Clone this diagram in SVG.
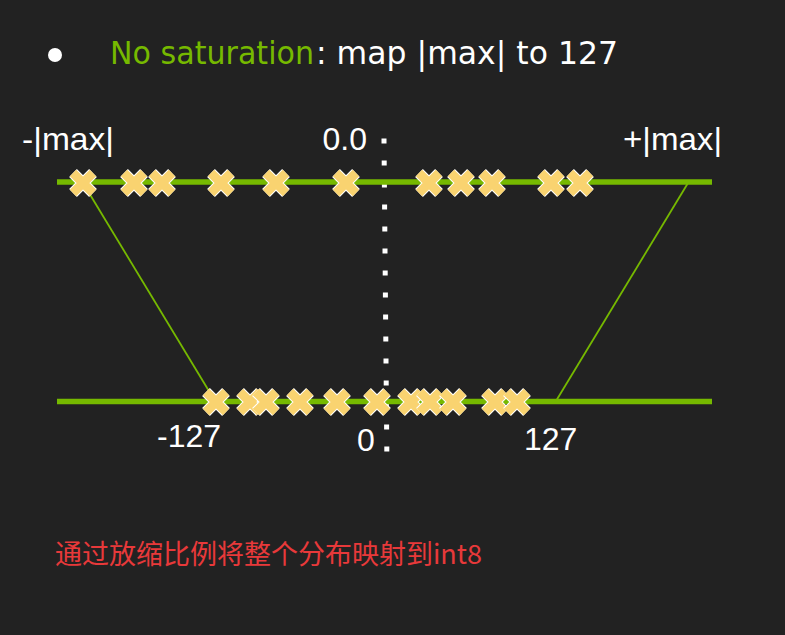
<svg xmlns="http://www.w3.org/2000/svg" width="785" height="635" viewBox="0 0 785 635">
<defs>
<style>
.lbl{font-family:"Liberation Sans",Arial,sans-serif;font-size:32px;fill:#ffffff}
.title{font-family:"DejaVu Sans","Open Sans",sans-serif;font-size:32px}
.axis{stroke:#76b900;stroke-width:5.5;fill:none}
.map{stroke:#76b900;stroke-width:1.8;fill:none}
.dot{fill:#ffffff}
.xo{stroke:#ffffff;stroke-width:11;fill:none}
.xi{stroke:#f9d370;stroke-width:9;fill:none}
</style>
<g id="cross">
<path class="xo" d="M-10,-10L10,10M-10,10L10,-10"/>
<path class="xi" d="M-10,-10L10,10M-10,10L10,-10"/>
</g>
</defs>
<rect width="785" height="635" fill="#222222"/>

<g id="title">
<circle cx="55" cy="55" r="7" fill="#ffffff"/>
<text class="title" x="110" y="64" fill="#76b900" textLength="204" lengthAdjust="spacingAndGlyphs">No saturation</text>
<text class="title" x="316" y="64" fill="#ffffff" textLength="302" lengthAdjust="spacingAndGlyphs">: map |max| to 127</text>
</g>

<g id="connectors">
<line class="map" x1="83" y1="183" x2="215" y2="401"/>
<line class="map" x1="688" y1="183" x2="556" y2="401"/>
</g>

<g id="zero-axis">
<rect class="dot" x="381.5" y="138.5" width="5" height="5"/>
<rect class="dot" x="381.7" y="160.5" width="5" height="5"/>
<rect class="dot" x="381.9" y="182.5" width="5" height="5"/>
<rect class="dot" x="382.1" y="204.5" width="5" height="5"/>
<rect class="dot" x="382.3" y="226.5" width="5" height="5"/>
<rect class="dot" x="382.5" y="248.5" width="5" height="5"/>
<rect class="dot" x="382.7" y="270.5" width="5" height="5"/>
<rect class="dot" x="382.9" y="292.5" width="5" height="5"/>
<rect class="dot" x="383.1" y="314.5" width="5" height="5"/>
<rect class="dot" x="383.3" y="336.5" width="5" height="5"/>
<rect class="dot" x="383.5" y="358.5" width="5" height="5"/>
<rect class="dot" x="383.7" y="380.5" width="5" height="5"/>
<rect class="dot" x="383.9" y="402.5" width="5" height="5"/>
<rect class="dot" x="384.1" y="424.5" width="5" height="5"/>
<rect class="dot" x="384.3" y="446.5" width="5" height="5"/>
</g>

<g id="fp32-axis">
<line class="axis" x1="57" y1="182" x2="712" y2="182"/>
<use href="#cross" x="83" y="183"/>
<use href="#cross" x="134" y="183"/>
<use href="#cross" x="162" y="183"/>
<use href="#cross" x="221" y="183"/>
<use href="#cross" x="276" y="183"/>
<use href="#cross" x="346" y="183"/>
<use href="#cross" x="429" y="183"/>
<use href="#cross" x="461" y="183"/>
<use href="#cross" x="492" y="183"/>
<use href="#cross" x="551" y="183"/>
<use href="#cross" x="580" y="183"/>
</g>

<g id="int8-axis">
<line class="axis" x1="57" y1="401.5" x2="712" y2="401.5"/>
<use href="#cross" x="216" y="402"/>
<use href="#cross" x="250" y="402"/>
<use href="#cross" x="266" y="402"/>
<use href="#cross" x="300" y="402"/>
<use href="#cross" x="337" y="402"/>
<use href="#cross" x="377" y="402"/>
<use href="#cross" x="411" y="402"/>
<use href="#cross" x="430" y="402"/>
<use href="#cross" x="453" y="402"/>
<use href="#cross" x="495" y="402"/>
<use href="#cross" x="517" y="402"/>
</g>

<g id="labels">
<text class="lbl" x="22" y="150" textLength="92" lengthAdjust="spacingAndGlyphs">-|max|</text>
<text class="lbl" x="367" y="150" text-anchor="end">0.0</text>
<text class="lbl" x="623" y="150" textLength="99" lengthAdjust="spacingAndGlyphs">+|max|</text>
<text class="lbl" x="157" y="447">-127</text>
<text class="lbl" x="357" y="451">0</text>
<text class="lbl" x="524" y="450">127</text>
</g>

<g id="note">
<text x="55" y="564" font-family="'Noto Sans CJK SC','Noto Sans',sans-serif" font-size="27" fill="#e8393a" textLength="427" lengthAdjust="spacingAndGlyphs">通过放缩比例将整个分布映射到int8</text>
</g>
</svg>
